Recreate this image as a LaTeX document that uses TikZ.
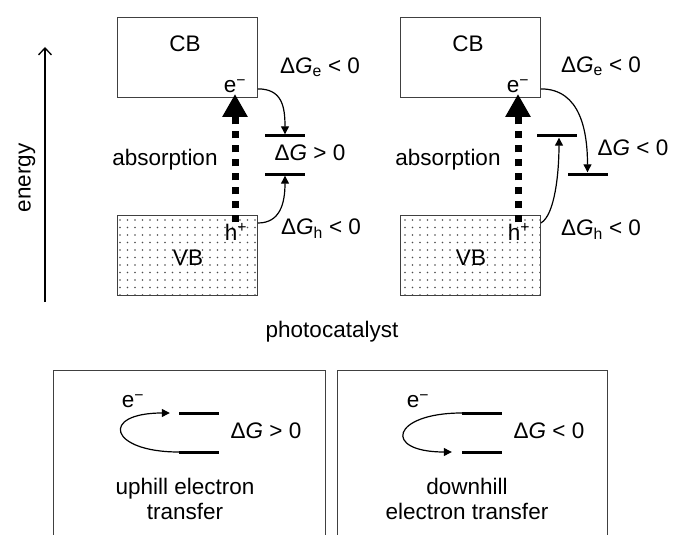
\documentclass[tikz,border=0pt]{standalone}
\usepackage{fontspec}
\setmainfont{Liberation Sans}
\usetikzlibrary{arrows.meta,patterns.meta}

\begin{document}
\begin{tikzpicture}[
  x=1pt, y=-1pt,
  font=\fontsize{22.5}{25}\selectfont,
  band/.style={draw=black!75, line width=0.9pt, minimum width=140pt,
    minimum height=80pt, inner sep=0pt, anchor=north west},
  valence/.style={band, pattern={Dots[distance=7.5pt,radius=0.9pt]},
    pattern color=black!70},
  levelbar/.style={fill=black, minimum width=40pt, minimum height=3pt, inner sep=0pt},
  etrans/.style={-{Triangle[length=8pt,width=8pt]}, line width=1.2pt},
  absorb/.style={-{Triangle[length=23pt,width=24pt]}, line width=7pt,
    dash pattern=on 7pt off 7pt},
  axis/.style={-{Straight Barb[length=7pt,width=13pt]}, line width=1.3pt},
  frame/.style={draw=black!75, line width=0.9pt, minimum height=175pt,
    inner sep=0pt, anchor=north west}
]
\clip (0,0) rectangle (673,535);

% --- Band picture helper: prefix, x shift ---
\newcommand{\BandPair}[2]{%
  % Conduction and valence band
  \node[band] (#1cb) at (#2+117,17) {};
  \node[valence] (#1vb) at (#2+117,215) {};
  \node at (#2+185,44) {CB};
  \node at (#2+188,258) {VB};

  % Electron / hole
  \node[inner sep=1pt] (#1e) at (#2+235,86) {e\textsuperscript{−}};
  \node[inner sep=1pt] (#1h) at (#2+236,232) {h\textsuperscript{+}};

  % Excitation arrow
  \draw[absorb] (#1e.south |- #1h.north) -- (#1e.south);
  \node at (#2+165,160) {absorption};
}

% --- Energy axis ---
\coordinate (ebot) at (45,302);
\coordinate (etop) at (45,47);
\draw[axis] (ebot) -- (etop);
\node[rotate=90] (elabel) at (27,178) {energy};

% --- Two band pictures ---
\BandPair{L}{0}
\BandPair{R}{283}

% left: uphill
\node[levelbar] (Lup) at (285,136) {};
\node[levelbar] (Llo) at (285,174) {};
\draw[etrans] ([yshift=9pt]Lcb.south east) .. controls +(24,0) and +(0,-28) .. (Lup.north);
\draw[etrans] ([yshift=-8pt]Lvb.north east) .. controls +(22,0) and +(0,28) .. (Llo.south);
\node at (320,67) {Δ\textit{G}\textsubscript{e} < 0};
\node at (310,153) {Δ\textit{G} > 0};
\node at (321,229) {Δ\textit{G}\textsubscript{h} < 0};

% right: downhill
\node[levelbar] (Rup) at (557,136) {};
\node[levelbar] (Rlo) at (587.5,174) {};
\draw[etrans] ([yshift=9pt]Rcb.south east) .. controls +(40,0) and +(0,-40) .. (Rlo.north);
\draw[etrans] ([yshift=-8pt]Rvb.north east) .. controls +(14,-8) and +(0,35) .. ([xshift=2pt]Rup.south);
\node at (601,66) {Δ\textit{G}\textsubscript{e} < 0};
\node at (633,148) {Δ\textit{G} < 0};
\node at (601,230) {Δ\textit{G}\textsubscript{h} < 0};

\node (cat) at (332,332) {photocatalyst};

% --- Legend boxes ---
\node[frame, minimum width=272pt] (B1) at (53,370) {};
\node[frame, minimum width=270pt] (B2) at (337,370) {};

\node[levelbar] (B1up) at (199,413) {};
\node[levelbar] (B1lo) at (199,452) {};
\node (B1e) at (133,401) {e\textsuperscript{−}};
\draw[etrans] (B1lo.west) .. controls +(-70,0) and +(-70,0) .. ([xshift=-9pt]B1up.west);
\node at (266,431) {Δ\textit{G} > 0};
\node[align=center] at (185,499) {uphill electron\\transfer};

\node[levelbar] (B2up) at (482,413) {};
\node[levelbar] (B2lo) at (482,452) {};
\node (B2e) at (418,401) {e\textsuperscript{−}};
\draw[etrans] (B2up.west) .. controls +(-70,0) and +(-70,0) .. ([xshift=-10pt]B2lo.west);
\node at (549,431) {Δ\textit{G} < 0};
\node[align=center] at (467,499) {downhill\\electron transfer};

\end{tikzpicture}
\end{document}
